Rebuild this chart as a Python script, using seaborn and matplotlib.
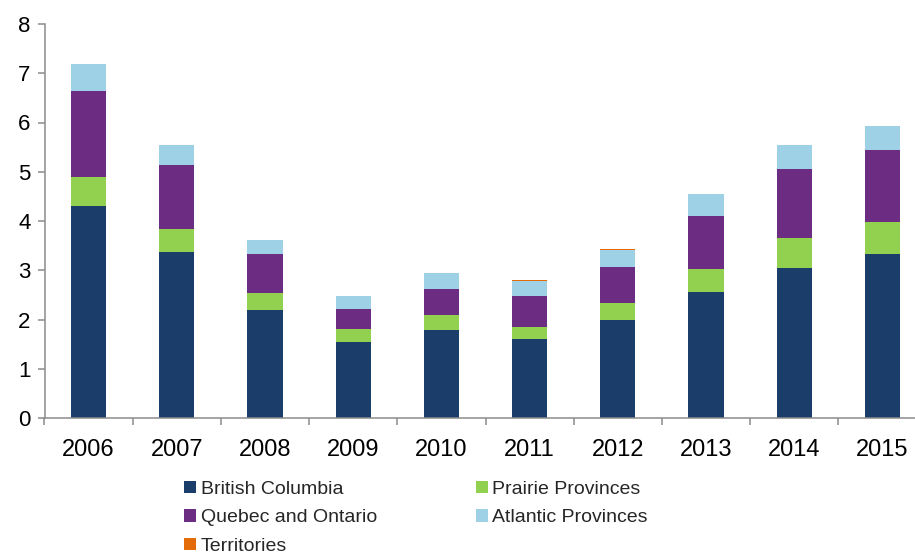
import pandas as pd
import matplotlib.pyplot as plt
import seaborn as sns
from matplotlib.patches import Patch
from matplotlib.ticker import FixedLocator

years = ["2006", "2007", "2008", "2009", "2010", "2011", "2012", "2013", "2014", "2015"]
british_columbia = [4.30, 3.37, 2.19, 1.54, 1.79, 1.60, 2.00, 2.56, 3.05, 3.32]
prairie_provinces = [0.59, 0.47, 0.35, 0.27, 0.30, 0.25, 0.33, 0.46, 0.60, 0.66]
quebec_ontario = [1.75, 1.30, 0.79, 0.40, 0.52, 0.62, 0.74, 1.09, 1.41, 1.46]
atlantic_provinces = [0.54, 0.40, 0.28, 0.26, 0.33, 0.32, 0.35, 0.44, 0.48, 0.49]
territories = [0.01, 0.005, 0.01, 0.005, 0.005, 0.02, 0.005, 0.005, 0.005, 0.005]

series = {
    "British Columbia": (british_columbia, "#1B3D6A"),
    "Prairie Provinces": (prairie_provinces, "#92D050"),
    "Quebec and Ontario": (quebec_ontario, "#6B2C82"),
    "Atlantic Provinces": (atlantic_provinces, "#9ED0E6"),
    "Territories": (territories, "#E36C09"),
}

df = pd.DataFrame({"Year": years})
running = pd.Series([0.0] * len(years))
for name, (vals, _) in series.items():
    running = running + pd.Series(vals)
    df[name] = running

sns.set_theme(style="white")
plt.rcParams["font.family"] = ["Liberation Sans", "DejaVu Sans"]

fig = plt.figure(figsize=(9.15, 5.54), dpi=100)
ax = fig.add_axes([44.5 / 915, 136 / 554, 882 / 915, 394 / 554])

# draw cumulative totals from the top series down so lower ones overlap
for name in reversed(list(series.keys())):
    sns.barplot(data=df, x="Year", y=name, color=series[name][1], width=0.4,
                saturation=1, ax=ax, linewidth=0)

ax.set_xlim(-0.5, 9.5)
ax.set_ylim(0, 8)
ax.set_yticks(range(0, 9))
ax.set_xlabel("")
ax.set_ylabel("")

grey = "#8C8C8C"
for side in ["top", "right"]:
    ax.spines[side].set_visible(False)
for side in ["left", "bottom"]:
    ax.spines[side].set_color(grey)
    ax.spines[side].set_linewidth(1.1)

# category labels on minor ticks, tick marks on category boundaries
ax.xaxis.set_major_locator(FixedLocator([i - 0.5 for i in range(11)]))
ax.xaxis.set_major_formatter(plt.NullFormatter())
ax.xaxis.set_minor_locator(FixedLocator(range(10)))
ax.set_xticklabels(years, minor=True)
ax.tick_params(axis="x", which="major", length=5, width=1.1, color=grey, direction="out", bottom=True)
ax.tick_params(axis="x", which="minor", length=0, pad=15, labelsize=17, labelcolor="black")
ax.tick_params(axis="y", length=5, width=1.1, color=grey, direction="out", left=True,
               pad=5, labelsize=16, labelcolor="black")

order = ["British Columbia", "Quebec and Ontario", "Territories",
         "Prairie Provinces", "Atlantic Provinces"]
handles = [Patch(facecolor=series[n][1], edgecolor="none") for n in order]
fig.legend(handles, order, ncol=2, loc="upper left", bbox_to_anchor=(184 / 915, 1 - 481 / 554),
           frameon=False, fontsize=14, handlelength=0.6, handleheight=0.6,
           handletextpad=0.25, columnspacing=5.1, labelspacing=0.58,
           borderpad=0, borderaxespad=0)

fig.savefig("out.png", dpi=100)
plt.close(fig)
